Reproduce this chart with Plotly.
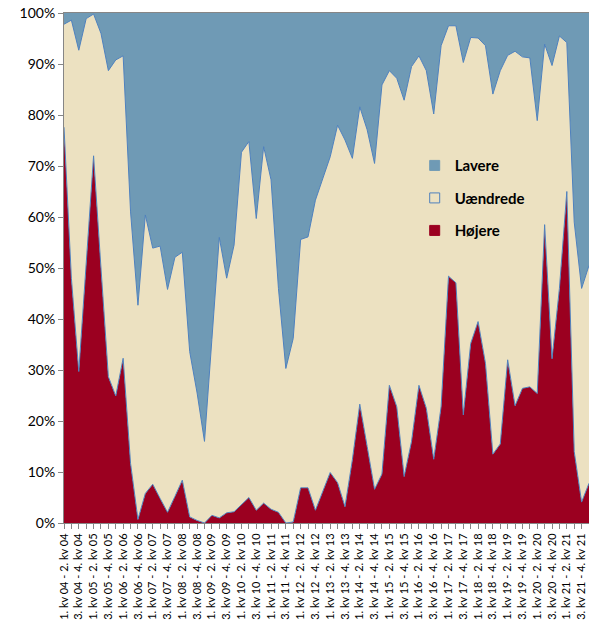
import plotly.graph_objects as go

periods = [
    "1. kv 04 - 2. kv 04", "2. kv 04 - 3. kv 04", "3. kv 04 - 4. kv 04", "4. kv 04 - 1. kv 05",
    "1. kv 05 - 2. kv 05", "2. kv 05 - 3. kv 05", "3. kv 05 - 4. kv 05", "4. kv 05 - 1. kv 06",
    "1. kv 06 - 2. kv 06", "2. kv 06 - 3. kv 06", "3. kv 06 - 4. kv 06", "4. kv 06 - 1. kv 07",
    "1. kv 07 - 2. kv 07", "2. kv 07 - 3. kv 07", "3. kv 07 - 4. kv 07", "4. kv 07 - 1. kv 08",
    "1. kv 08 - 2. kv 08", "2. kv 08 - 3. kv 08", "3. kv 08 - 4. kv 08", "4. kv 08 - 1. kv 09",
    "1. kv 09 - 2. kv 09", "2. kv 09 - 3. kv 09", "3. kv 09 - 4. kv 09", "4. kv 09 - 1. kv 10",
    "1. kv 10 - 2. kv 10", "2. kv 10 - 3. kv 10", "3. kv 10 - 4. kv 10", "4. kv 10 - 1. kv 11",
    "1. kv 11 - 2. kv 11", "2. kv 11 - 3. kv 11", "3. kv 11 - 4. kv 11", "4. kv 11 - 1. kv 12",
    "1. kv 12 - 2. kv 12", "2. kv 12 - 3. kv 12", "3. kv 12 - 4. kv 12", "4. kv 12 - 1. kv 13",
    "1. kv 13 - 2. kv 13", "2. kv 13 - 3. kv 13", "3. kv 13 - 4. kv 13", "4. kv 13 - 1. kv 14",
    "1. kv 14 - 2. kv 14", "2. kv 14 - 3. kv 14", "3. kv 14 - 4. kv 14", "4. kv 14 - 1. kv 15",
    "1. kv 15 - 2. kv 15", "2. kv 15 - 3. kv 15", "3. kv 15 - 4. kv 15", "4. kv 15 - 1. kv 16",
    "1. kv 16 - 2. kv 16", "2. kv 16 - 3. kv 16", "3. kv 16 - 4. kv 16", "4. kv 16 - 1. kv 17",
    "1. kv 17 - 2. kv 17", "2. kv 17 - 3. kv 17", "3. kv 17 - 4. kv 17", "4. kv 17 - 1. kv 18",
    "1. kv 18 - 2. kv 18", "2. kv 18 - 3. kv 18", "3. kv 18 - 4. kv 18", "4. kv 18 - 1. kv 19",
    "1. kv 19 - 2. kv 19", "2. kv 19 - 3. kv 19", "3. kv 19 - 4. kv 19", "4. kv 19 - 1. kv 20",
    "1. kv 20 - 2. kv 20", "2. kv 20 - 3. kv 20", "3. kv 20 - 4. kv 20", "4. kv 20 - 1. kv 21",
    "1. kv 21 - 2. kv 21", "2. kv 21 - 3. kv 21", "3. kv 21 - 4. kv 21", "4. kv 21 - 1. kv 22",
]

hojere = [
    77.6, 48.0, 29.7, 51.0, 72.0, 50.0, 28.7, 24.9, 32.3, 11.7, 0.7, 5.8,
    7.6, 4.8, 2.1, 5.2, 8.4, 1.2, 0.5, 0.0, 1.5, 1.0, 2.0, 2.2,
    3.7, 5.0, 2.5, 3.9, 2.7, 2.1, 0.0, 0.2, 6.9, 6.9, 2.5, 6.1,
    9.9, 7.9, 3.2, 12.4, 23.3, 15.0, 6.6, 9.6, 27.0, 22.8, 9.1, 16.0,
    27.0, 22.5, 12.5, 22.8, 48.4, 47.1, 21.2, 35.2, 39.5, 31.3, 13.5, 15.5,
    32.0, 23.0, 26.4, 26.7, 25.4, 58.5, 32.2, 46.0, 65.0, 14.0, 4.1, 7.8,
]

uaendrede = [
    20.2, 50.6, 63.0, 47.9, 27.8, 46.0, 60.0, 65.9, 59.3, 49.3, 42.0, 54.6,
    46.3, 49.5, 43.7, 46.9, 44.7, 32.4, 25.0, 16.0, 34.5, 55.0, 46.0, 52.3,
    69.0, 69.8, 57.2, 69.9, 64.6, 43.9, 30.3, 36.0, 48.7, 49.2, 60.8, 61.5,
    61.9, 70.1, 71.9, 59.1, 58.3, 62.1, 63.9, 76.3, 61.7, 64.4, 73.8, 73.5,
    64.6, 66.2, 67.7, 70.8, 49.1, 50.4, 69.1, 60.0, 55.6, 62.3, 70.6, 73.2,
    59.7, 69.5, 65.0, 64.5, 53.5, 35.4, 57.5, 49.5, 29.2, 45.0, 41.9, 42.7,
]

lavere = [
    2.2, 1.4, 7.3, 1.1, 0.2, 4.0, 11.3, 9.2, 8.4, 39.0, 57.3, 39.6,
    46.1, 45.7, 54.2, 47.9, 46.9, 66.4, 74.5, 84.0, 64.0, 44.0, 52.0, 45.5,
    27.3, 25.2, 40.3, 26.2, 32.7, 54.0, 69.7, 63.8, 44.4, 43.9, 36.7, 32.4,
    28.2, 22.0, 24.9, 28.5, 18.4, 22.9, 29.5, 14.1, 11.3, 12.8, 17.1, 10.5,
    8.4, 11.3, 19.8, 6.4, 2.5, 2.5, 9.7, 4.8, 4.9, 6.4, 15.9, 11.3,
    8.3, 7.5, 8.6, 8.8, 21.1, 6.1, 10.3, 4.5, 5.8, 41.0, 54.0, 49.5,
]

y_ticks = [0, 10, 20, 30, 40, 50, 60, 70, 80, 90, 100]

x = list(range(len(periods)))
label_idx = x[::2]
label_txt = [periods[i] for i in label_idx]

RED = "#9B0020"
BEIGE = "#ECE1C1"
BLUE = "#6F9AB5"
EDGE = "#4F81BD"
AXIS = "#868686"
FONT = "Lato"

fig = go.Figure()
series = [("Højere", hojere, RED, 1.0), ("Uændrede", uaendrede, BEIGE, 1.0), ("Lavere", lavere, BLUE, 0)]
for name, vals, col, lw in series:
    fig.add_trace(go.Scatter(
        x=x, y=vals, name=name, mode="lines", stackgroup="one", groupnorm="percent",
        line=dict(color=EDGE, width=lw), fillcolor=col, showlegend=False, hoverinfo="skip",
    ))

# legend entries (square symbols like the original), top to bottom
for name, vals, col, lw in reversed(series):
    border = EDGE if name == "Uændrede" else col
    fig.add_trace(go.Scatter(
        x=[None], y=[None], name=name, mode="markers", legendgroup=name,
        marker=dict(symbol="square", size=10, color=col, line=dict(color=border, width=1)),
    ))

fig.update_layout(
    width=589, height=637,
    margin=dict(l=64, r=0, t=13, b=114, autoexpand=False),
    paper_bgcolor="white", plot_bgcolor="white",
    font=dict(family=FONT, color="#000000"),
    legend=dict(
        x=0.668, y=0.733, xanchor="left", yanchor="top",
        bgcolor="rgba(0,0,0,0)", traceorder="grouped", tracegroupgap=10,
        font=dict(size=15, family=FONT, color="#000000", weight="bold"),
        itemwidth=30,
    ),
    xaxis=dict(
        range=[0, len(periods) - 1], tickmode="array", tickvals=label_idx, ticktext=label_txt,
        tickangle=-90, tickfont=dict(size=11, family=FONT, color="#000000"), automargin=False,
        ticklabeloverflow="allow",
        showgrid=False, zeroline=False, showline=True, linecolor=AXIS, linewidth=1, mirror=True,
        ticks="outside", ticklen=5, tickcolor=AXIS,
        minor=dict(dtick=1, ticks="outside", ticklen=5, tickcolor=AXIS, showgrid=False),
    ),
    yaxis=dict(
        range=[0, 100], tickmode="array", tickvals=y_ticks, ticktext=[f"{v}%" for v in y_ticks],
        tickfont=dict(size=14, family=FONT, color="#000000"), automargin=False,
        ticklabeloverflow="allow",
        showgrid=False, zeroline=False, showline=True, linecolor=AXIS, linewidth=1,
        ticks="outside", ticklen=5, tickcolor=AXIS,
    ),
)

fig.write_html(
    "out.html",
    config={"displayModeBar": False},
    post_script="document.body.style.margin='0';document.documentElement.style.overflow='hidden';",
)
